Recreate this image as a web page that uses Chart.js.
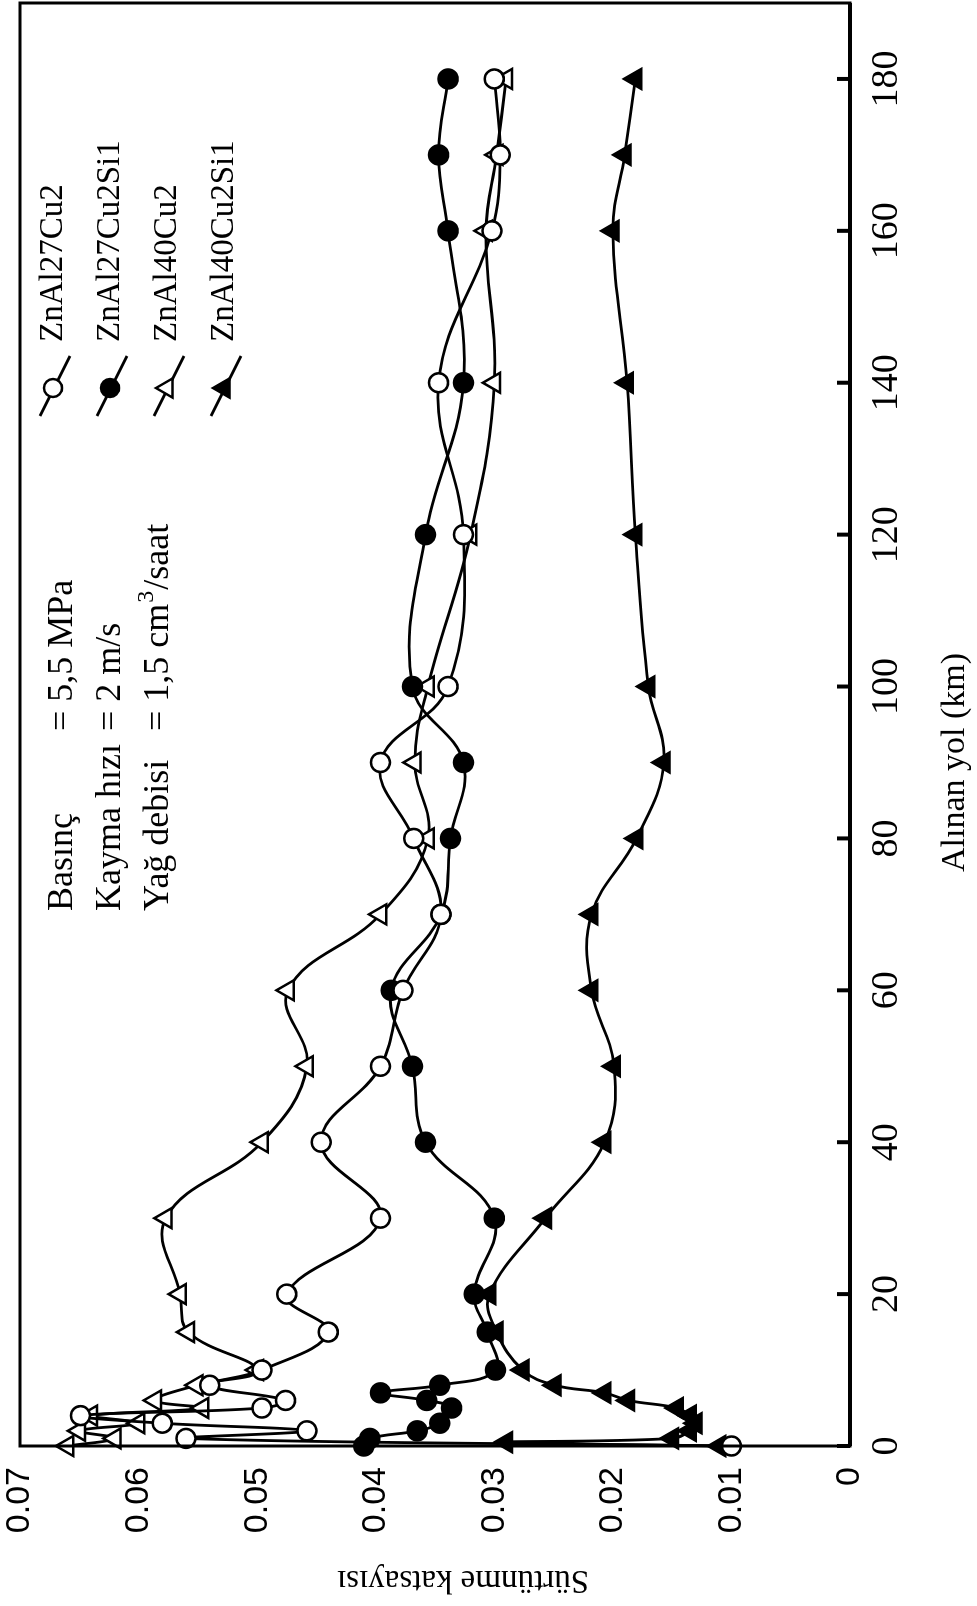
<!DOCTYPE html>
<html>
<head>
<meta charset="utf-8">
<script src="https://cdn.jsdelivr.net/npm/chart.js@4/dist/chart.umd.min.js"></script>
<style>
  html, body { margin: 0; padding: 0; background: #fff; overflow: hidden; }
  /* the chart is drawn landscape and turned a quarter turn to the left, as in the scan */
  #wrap {
    position: absolute; left: 0; top: 0;
    width: 1606px; height: 977px;
    transform-origin: top left;
    transform: translateY(1606px) rotate(-90deg);
  }
</style>
</head>
<body>
<div id="wrap"><canvas id="frictionChart" width="1606" height="977"></canvas></div>
<script>
// distance (km) and friction coefficient for each alloy
const seriesNames = ['ZnAl27Cu2', 'ZnAl27Cu2Si1', 'ZnAl40Cu2', 'ZnAl40Cu2Si1']

const zn27Km = [0, 1, 2, 3, 4, 5, 6, 8, 10, 15, 20, 30, 40, 50, 60, 70, 80, 90, 100, 120, 140, 160, 170, 180]
const zn27Mu = [0.0100, 0.0560, 0.0458, 0.0580, 0.0649, 0.0496, 0.0476, 0.0540, 0.0496, 0.0440, 0.0475, 0.0396,
    0.0446, 0.0396, 0.0377, 0.0345, 0.0368, 0.0396, 0.0339, 0.0326, 0.0347, 0.0302, 0.0295, 0.0300]

const zn27SiKm = [0, 1, 2, 3, 5, 6, 7, 8, 10, 15, 20, 30, 40, 50, 60, 70, 80, 90, 100, 120, 140, 160, 170, 180]
const zn27SiMu = [0.0410, 0.0405, 0.0365, 0.0346, 0.0336, 0.0357, 0.0396, 0.0346, 0.0299, 0.0306, 0.0317, 0.0300,
    0.0358, 0.0369, 0.0387, 0.0345, 0.0337, 0.0326, 0.0369, 0.0358, 0.0326, 0.0339, 0.0347, 0.0339]

const zn40Km = [0, 1, 2, 3, 4, 5, 6, 8, 10, 15, 20, 30, 40, 50, 60, 70, 80, 90, 100, 120, 140, 160, 170, 180]
const zn40Mu = [0.0660, 0.0620, 0.0650, 0.0600, 0.0640, 0.0546, 0.0586, 0.0551, 0.0500, 0.0558, 0.0565, 0.0577,
    0.0496, 0.0458, 0.0474, 0.0396, 0.0356, 0.0367, 0.0356, 0.0320, 0.0300, 0.0307, 0.0298, 0.0290]

const zn40SiKm = [0, 0.5, 1, 2, 3, 4, 5, 6, 7, 8, 10, 15, 20, 30, 40, 50, 60, 70, 80, 90, 100, 120, 140, 160, 170, 180]
const zn40SiMu = [0.0110, 0.0290, 0.0150, 0.0135, 0.0130, 0.0135, 0.0146, 0.0187, 0.0207, 0.0249, 0.0276, 0.0298,
    0.0304, 0.0257, 0.0207, 0.0199, 0.0218, 0.0218, 0.0180, 0.0157, 0.0170, 0.0181, 0.0188, 0.0200, 0.0190, 0.0181]

const xTicks = [0, 20, 40, 60, 80, 100, 120, 140, 160, 180]
const yTicks = [0, 0.01, 0.02, 0.03, 0.04, 0.05, 0.06, 0.07]
const yTickLabels = ['0', '0.01', '0.02', '0.03', '0.04', '0.05', '0.06', '0.07']

const xTitle = 'Alınan yol (km)'
const yTitle = 'Sürtünme katsayısı'

const conditions = [
    ['Basınç', '= 5,5 MPa'],
    ['Kayma hızı', '= 2 m/s'],
    ['Yağ debisi', '= 1,5 cm', '3', '/saat']
]

const serif = '"Liberation Serif", "Times New Roman", serif'
const sans = '"Liberation Sans", Arial, sans-serif'

function toPoints(xs, ys) {
    return xs.map((x, i) => ({ x: x, y: ys[i] }))
}

function makeSet(label, xs, ys, style, fill, radius) {
    return {
        label: label,
        data: toPoints(xs, ys),
        borderColor: '#000',
        borderWidth: 2.8,
        tension: 0.4,
        pointStyle: style,
        pointRadius: radius,
        pointBorderWidth: 2.5,
        pointBorderColor: '#000',
        pointBackgroundColor: fill,
        clip: 12
    }
}

// draw a marker by hand for the legend
function marker(ctx, style, fill, x, y, r) {
    ctx.beginPath()
    if (style === 'circle') {
        ctx.arc(x, y, r, 0, Math.PI * 2)
    } else {
        ctx.moveTo(x, y - r)
        ctx.lineTo(x + r * 0.866, y + r * 0.5)
        ctx.lineTo(x - r * 0.866, y + r * 0.5)
        ctx.closePath()
    }
    ctx.fillStyle = fill
    ctx.fill()
    ctx.lineWidth = 2.5
    ctx.strokeStyle = '#000'
    ctx.stroke()
}

// frame, inner tick marks, axis titles, legend and test conditions
const decorations = {
    id: 'decorations',
    afterDraw(chart) {
        const ctx = chart.ctx
        const a = chart.chartArea
        const xs = chart.scales.x
        ctx.save()
        ctx.strokeStyle = '#000'
        ctx.lineWidth = 3
        ctx.strokeRect(a.left, a.top, a.right - a.left, a.bottom - a.top)
        ctx.lineWidth = 4
        ctx.beginPath()
        ctx.moveTo(a.left, a.bottom)
        ctx.lineTo(a.right, a.bottom)
        ctx.stroke()
        xTicks.forEach(t => {
            const p = xs.getPixelForValue(t)
            ctx.beginPath()
            ctx.moveTo(p, a.bottom)
            ctx.lineTo(p, a.bottom - 13)
            ctx.stroke()
        })

        // axis titles, centred where the original puts them
        ctx.fillStyle = '#000'
        ctx.textAlign = 'center'
        ctx.textBaseline = 'middle'
        ctx.font = '34px ' + serif
        ctx.fillText(xTitle, xs.getPixelForValue(90), 955)
        ctx.save()
        ctx.translate(26, 463)
        ctx.rotate(-Math.PI / 2)
        ctx.font = '33px ' + serif
        ctx.fillText(yTitle, 0, 0)
        ctx.restore()

        // legend
        chart.data.datasets.forEach((ds, i) => {
            const v = 53 + 57 * i
            const u = 1220
            ctx.lineWidth = 3
            ctx.beginPath()
            ctx.moveTo(u - 30, v - 13)
            ctx.lineTo(u + 30, v + 17)
            ctx.stroke()
            marker(ctx, ds.pointStyle, ds.pointBackgroundColor, u - 2, v, ds.pointStyle === 'circle' ? 9 : 11)
            ctx.fillStyle = '#000'
            ctx.font = '33px ' + serif
            ctx.textAlign = 'left'
            ctx.textBaseline = 'middle'
            ctx.fillText(ds.label, 1264, v)
        })

        // test conditions
        conditions.forEach((c, i) => {
            const v = 63 + 48 * i
            ctx.font = '36px ' + serif
            ctx.fillText(c[0], 695, v)
            let u = 875
            ctx.fillText(c[1], u, v)
            if (c.length > 2) {
                u += ctx.measureText(c[1]).width + 1
                ctx.font = '24px ' + serif
                ctx.fillText(c[2], u, v - 12)
                u += ctx.measureText(c[2]).width + 1
                ctx.font = '36px ' + serif
                ctx.fillText(c[3], u, v)
            }
        })
        ctx.restore()
    }
}

const ctx = document.getElementById('frictionChart').getContext('2d')

new Chart(ctx, {
    type: 'line',
    data: {
        datasets: [
            makeSet(seriesNames[0], zn27Km, zn27Mu, 'circle', '#fff', 9.5),
            makeSet(seriesNames[1], zn27SiKm, zn27SiMu, 'circle', '#000', 9.5),
            makeSet(seriesNames[2], zn40Km, zn40Mu, 'triangle', '#fff', 11.5),
            makeSet(seriesNames[3], zn40SiKm, zn40SiMu, 'triangle', '#000', 11.5)
        ]
    },
    options: {
        responsive: false,
        devicePixelRatio: 1,
        animation: false,
        layout: { autoPadding: false, padding: { top: 20, right: 3, left: 0, bottom: 0 } },
        plugins: {
            legend: { display: false },
            tooltip: { enabled: false }
        },
        scales: {
            x: {
                type: 'linear',
                min: 0,
                max: 190,
                afterBuildTicks: scale => { scale.ticks = xTicks.map(v => ({ value: v })) },
                afterFit: scale => {
                    scale.height = 127
                    scale.paddingLeft = 0
                    scale.paddingRight = 0
                },
                grid: { display: false, drawTicks: false },
                border: { display: false },
                ticks: {
                    color: '#000',
                    padding: 14,
                    maxRotation: 0,
                    font: { family: serif, size: 38 }
                }
            },
            y: {
                type: 'linear',
                min: 0,
                max: 0.07,
                afterBuildTicks: scale => { scale.ticks = yTicks.map(v => ({ value: v })) },
                afterFit: scale => {
                    scale.width = 160
                    scale.paddingTop = 0
                    scale.paddingBottom = 0
                },
                grid: { display: false, drawTicks: false },
                border: { display: false },
                ticks: {
                    color: '#000',
                    padding: 21,
                    font: { family: sans, size: 34 },
                    callback: (value, index) => yTickLabels[index]
                }
            }
        }
    },
    plugins: [decorations]
});
</script>
</body>
</html>
